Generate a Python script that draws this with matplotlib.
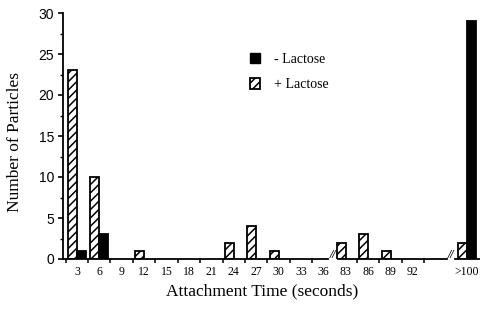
import numpy as np
import matplotlib
matplotlib.use("Agg")
import matplotlib.pyplot as plt
from matplotlib.patches import Patch

# attachment time bins (seconds)
categories = ["3", "6", "9", "12", "15", "18", "21", "24", "27", "30", "33", "36",
              "83", "86", "89", "92", ">100"]
plus_lactose = [23, 10, 0, 1, 0, 0, 0, 2, 4, 1, 0, 0, 2, 3, 1, 0, 2]
minus_lactose = [1, 3, 0, 0, 0, 0, 0, 0, 0, 0, 0, 0, 0, 0, 0, 0, 29]

# x positions: evenly spaced, last bin set further right after the second break
xpos = np.arange(len(categories), dtype=float)
xpos[-1] = 17.4
width = 0.4

plt.rcParams["hatch.linewidth"] = 1.1
serif = "Liberation Serif"
sans = "Liberation Sans"

fig = plt.figure(figsize=(4.81, 3.09), dpi=100)
ax = fig.add_axes([63 / 481, 1 - 259 / 309, 416 / 481, 246 / 309])

for x, p, m in zip(xpos, plus_lactose, minus_lactose):
    if p > 0:
        ax.bar(x - width / 2, p, width, color="white", edgecolor="black",
               hatch="////", linewidth=1.3, zorder=2)
    if m > 0:
        ax.bar(x + width / 2, m, width, color="black", edgecolor="black",
               linewidth=1.3, zorder=2)

ax.set_xlim(-0.62, 17.95)
ax.set_ylim(0, 30)

# broken x axis drawn by hand
ax.spines[["top", "right", "bottom"]].set_visible(False)
ax.spines["left"].set_linewidth(1.3)
for x0, x1 in [(-0.62, 11.2), (11.65, 16.5), (16.87, 17.95)]:
    ax.plot([x0, x1], [0, 0], color="black", lw=1.3, clip_on=False, zorder=3)
for xb in [11.42, 16.68]:
    ax.text(xb, 0.45, "//", ha="center", va="center", fontsize=8.5,
            family=serif, style="italic", fontweight="bold")

ax.set_xticks(xpos)
ax.set_xticklabels(categories, family=serif, fontsize=8.5)
ax.set_xticks([-0.5] + [i + 0.5 for i in range(11)] + [12.5, 13.5, 14.5, 15.5],
              minor=True)
ax.tick_params(axis="x", which="major", length=0, pad=5)
ax.tick_params(axis="x", which="minor", length=3, width=1.1, direction="out")

ax.set_yticks(range(0, 31, 5))
ax.set_yticks(np.arange(2.5, 30, 5), minor=True)
ax.tick_params(axis="y", which="major", length=3.5, width=1.2, pad=3)
ax.tick_params(axis="y", which="minor", length=2, width=1.0)
for lab in ax.get_yticklabels():
    lab.set_family(sans)
    lab.set_fontsize(10)

ax.set_xlabel("Attachment Time (seconds)", family=serif, fontsize=12.5)
ax.xaxis.set_label_coords((262 - 63) / 416, -0.1)
ax.set_ylabel("Number of Particles", family=serif, fontsize=12.5)
ax.yaxis.set_label_coords(-0.095, 0.476)

handles = [Patch(facecolor="black", edgecolor="black", label="- Lactose"),
           Patch(facecolor="white", edgecolor="black", hatch="////",
                 linewidth=1.3, label="+ Lactose")]
ax.legend(handles=handles, loc="upper left", bbox_to_anchor=(0.42, 0.89),
          frameon=False, prop={"family": serif, "size": 10},
          handlelength=0.7, handleheight=0.8, handletextpad=1.0,
          labelspacing=0.9)

fig.savefig("out.png", dpi=100)
